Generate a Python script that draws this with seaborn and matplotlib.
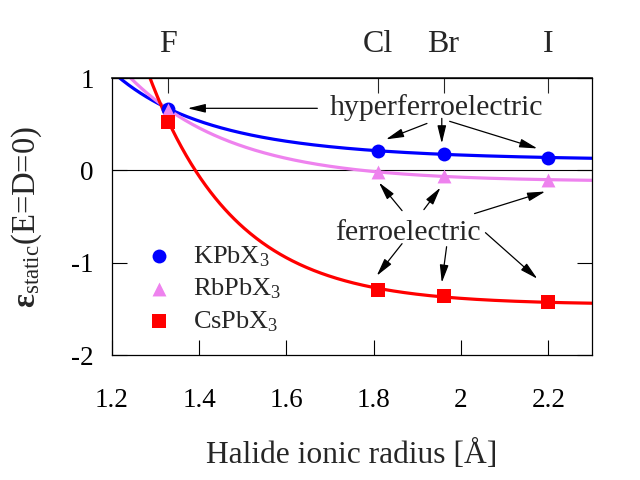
import numpy as np
import pandas as pd
import matplotlib
matplotlib.use("Agg")
import matplotlib.pyplot as plt
import seaborn as sns

# ---- data ----
halides = ["F", "Cl", "Br", "I"]
radius = [1.33, 1.81, 1.96, 2.20]
eps_K = [0.67, 0.21, 0.18, 0.14]
eps_Rb = [0.66, -0.02, -0.06, -0.10]
eps_Cs = [0.53, -1.29, -1.36, -1.43]
compounds = ["KPbX$_3$", "RbPbX$_3$", "CsPbX$_3$"]
fit_models = ["power", "exp", "exp"]
colors = ["#0000ff", "#ee82ee", "#ff0000"]
markers = ["o", "^", "s"]

sns.set_theme(style="ticks")
plt.rcParams["font.family"] = ["Liberation Serif", "DejaVu Serif"]
plt.rcParams["mathtext.fontset"] = "custom"
plt.rcParams["mathtext.rm"] = "Liberation Serif"
plt.rcParams["mathtext.it"] = "Liberation Serif:italic"
plt.rcParams["mathtext.bf"] = "Liberation Serif:bold"


def fit_curve(x, y, model):
    """least-squares fit of y = a + b*g(x), g = exp(-c x) or x**(-n)"""
    x = np.asarray(x, float)
    y = np.asarray(y, float)
    tx = np.log(x) if model == "power" else x
    best = None
    for a in np.linspace(y.min() - 1.0, y.min() - 1e-3, 4000):
        slope, icpt = np.polyfit(tx, np.log(y - a), 1)
        pred = a + np.exp(icpt + slope * tx)
        err = np.sum((pred - y) ** 2)
        if best is None or err < best[0]:
            best = (err, a, icpt, slope)
    _, a, icpt, slope = best
    if model == "power":
        return lambda xx: a + np.exp(icpt + slope * np.log(xx))
    return lambda xx: a + np.exp(icpt + slope * xx)


series = [eps_K, eps_Rb, eps_Cs]
xs = np.linspace(1.2, 2.3, 400)
curves = []
points = []
for name, vals, model in zip(compounds, series, fit_models):
    f = fit_curve(radius, vals, model)
    curves.append(pd.DataFrame({"r": xs, "eps": f(xs), "compound": name}))
    points.append(pd.DataFrame({"r": radius, "eps": vals, "compound": name}))
curves = pd.concat(curves, ignore_index=True)
points = pd.concat(points, ignore_index=True)

fig = plt.figure(figsize=(6.4, 4.8), dpi=100)
ax = fig.add_axes([0.1745, 0.2604, 0.7505, 0.5766])

ax.axhline(0, color="black", lw=0.8, zorder=1)

pal = dict(zip(compounds, colors))
mk = dict(zip(compounds, markers))
sns.lineplot(data=curves, x="r", y="eps", hue="compound", palette=pal,
             linewidth=2.3, legend=False, ax=ax, zorder=2)
for name in compounds:
    sub = points[points["compound"] == name]
    sns.scatterplot(data=sub, x="r", y="eps", color=pal[name], marker=mk[name],
                    s=100, linewidth=0, ax=ax, zorder=3, label=name)

ax.set_xlim(1.2, 2.3)
ax.set_ylim(-2, 1)
ax.set_xticks([1.2, 1.4, 1.6, 1.8, 2.0, 2.2], ["1.2", "1.4", "1.6", "1.8", "2", "2.2"])
ax.set_yticks([-2, -1, 0, 1], ["-2", "-1", "0", "1"])
ax.tick_params(axis="both", which="both", direction="in", length=11, width=0.8,
               labelsize=19.5, colors="black")
ax.tick_params(axis="x", pad=24)
ax.tick_params(axis="y", right=True, pad=13)
for s in ax.spines.values():
    s.set_visible(True)
    s.set_linewidth(0.9)
    s.set_color("black")

top = ax.secondary_xaxis("top")
top.set_xticks(radius, halides)
top.tick_params(direction="in", length=11, width=0.8, labelsize=23, pad=14)

ax.set_xlabel("Halide ionic radius [Å]", fontsize=22.7)
ax.xaxis.set_label_coords(0.5, -0.307)
ax.set_ylabel(r"$\mathbf{\varepsilon}_{\mathrm{static}}$(E=D=0)", fontsize=23.5)
ax.yaxis.set_label_coords(-0.141, 0.5)

leg = ax.legend(loc="lower left", bbox_to_anchor=(0.0, 0.0), frameon=False,
                fontsize=19, handletextpad=0.3, labelspacing=0.3,
                borderaxespad=0.4, markerscale=1.0)

# annotations
arrow_kw = dict(arrowstyle="-|>,head_length=0.9,head_width=0.22", color="black",
                lw=0.9, mutation_scale=12, shrinkA=0, shrinkB=0)
ax.text(1.944, 0.685, "hyperferroelectric", fontsize=21.5, ha="center", va="center")
hyper = [((1.671, 0.674), (1.374, 0.674)),
         ((1.922, 0.51), (1.828, 0.337)),
         ((1.956, 0.565), (1.956, 0.293)),
         ((1.974, 0.533), (2.175, 0.239))]
for s, e in hyper:
    ax.annotate("", xy=e, xytext=s, arrowprops=arrow_kw)

ax.text(1.878, -0.674, "ferroelectric", fontsize=21.5, ha="center", va="center")
ferro = [((1.865, -0.435), (1.812, -0.13)),
         ((1.915, -0.424), (1.953, -0.185)),
         ((2.031, -0.467), (2.193, -0.228)),
         ((1.865, -0.793), (1.807, -1.141)),
         ((1.967, -0.826), (1.956, -1.217)),
         ((2.056, -0.674), (2.175, -1.174))]
for s, e in ferro:
    ax.annotate("", xy=e, xytext=s, arrowprops=arrow_kw)

fig.savefig("out.png", dpi=100)
